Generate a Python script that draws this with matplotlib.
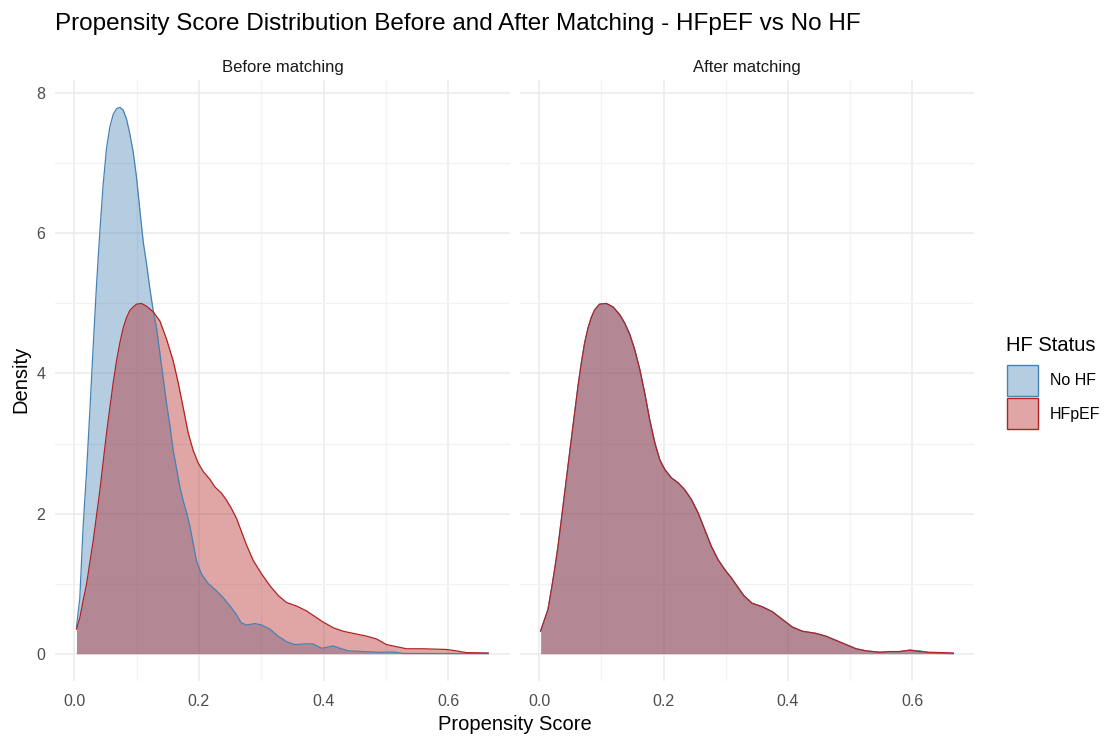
import numpy as np
import matplotlib.pyplot as plt
from matplotlib.patches import Patch

plt.rcParams['font.family'] = ['Liberation Sans', 'DejaVu Sans']

# density curves (x = propensity score, y = density)
before_nohf_x = [0.0037, 0.009, 0.0144, 0.0198, 0.0251, 0.0305, 0.0358, 0.0412, 0.0465, 0.0519,
                 0.0572, 0.0626, 0.0679, 0.0733, 0.0786, 0.084, 0.0893, 0.0947, 0.100, 0.1053,
                 0.1107, 0.116, 0.1214, 0.1267, 0.1321, 0.1374, 0.1428, 0.1481, 0.1535, 0.1588,
                 0.1642, 0.1695, 0.1749, 0.1802, 0.1856, 0.191, 0.196, 0.204, 0.215, 0.228,
                 0.239, 0.250, 0.260, 0.268, 0.2765, 0.290, 0.3005, 0.314, 0.327, 0.341,
                 0.354, 0.370, 0.383, 0.397, 0.4155, 0.426, 0.440, 0.464, 0.490, 0.512,
                 0.528, 0.603, 0.664]
before_nohf_y = [0.38, 0.79, 1.82, 2.59, 3.46, 4.39, 5.26, 6.03, 6.70, 7.22,
                 7.52, 7.70, 7.78, 7.80, 7.76, 7.63, 7.42, 7.16, 6.80, 6.34,
                 5.88, 5.57, 5.21, 4.90, 4.65, 4.29, 3.93, 3.57, 3.26, 2.90,
                 2.64, 2.38, 2.18, 2.02, 1.82, 1.57, 1.33, 1.14, 1.0, 0.90,
                 0.80, 0.68, 0.56, 0.44, 0.41, 0.43, 0.41, 0.35, 0.25, 0.17,
                 0.13, 0.14, 0.14, 0.077, 0.11, 0.077, 0.04, 0.03, 0.02, 0.024,
                 0.003, 0.002, 0.002]

before_hfpef_x = [0.0037, 0.009, 0.0144, 0.0198, 0.0251, 0.0305, 0.0358, 0.0412, 0.0465, 0.0519,
                  0.0572, 0.0626, 0.0679, 0.0733, 0.0786, 0.084, 0.0893, 0.0947, 0.100, 0.108,
                  0.116, 0.1267, 0.1374, 0.1481, 0.1588, 0.1668, 0.1749, 0.1829, 0.1909, 0.199,
                  0.207, 0.2176, 0.2257, 0.2364, 0.2444, 0.2524, 0.2604, 0.2684, 0.2765, 0.2872,
                  0.3005, 0.3139, 0.3273, 0.3406, 0.3567, 0.3727, 0.3861, 0.3995, 0.4155, 0.4316,
                  0.4529, 0.469, 0.485, 0.501, 0.517, 0.533, 0.560, 0.597, 0.613, 0.629,
                  0.664]
before_hfpef_y = [0.35, 0.51, 0.76, 0.99, 1.30, 1.61, 1.97, 2.33, 2.74, 3.15,
                  3.51, 3.87, 4.18, 4.44, 4.65, 4.80, 4.90, 4.95, 4.99, 5.0,
                  4.96, 4.88, 4.75, 4.49, 4.18, 3.87, 3.51, 3.15, 2.90, 2.72,
                  2.60, 2.49, 2.38, 2.29, 2.19, 2.07, 1.93, 1.74, 1.55, 1.33,
                  1.14, 0.97, 0.83, 0.73, 0.68, 0.61, 0.53, 0.45, 0.37, 0.32,
                  0.28, 0.25, 0.21, 0.13, 0.10, 0.07, 0.07, 0.06, 0.04, 0.015,
                  0.01]

after_x = [0.0024, 0.0088, 0.0142, 0.0196, 0.0249, 0.0303, 0.0357, 0.041, 0.0464, 0.0517,
           0.0571, 0.0625, 0.0678, 0.0732, 0.0786, 0.0839, 0.0893, 0.0973, 0.108, 0.1188,
           0.1295, 0.1375, 0.1456, 0.1536, 0.1617, 0.1697, 0.1777, 0.1858, 0.1938, 0.2019,
           0.2126, 0.2233, 0.234, 0.2448, 0.2555, 0.2662, 0.2769, 0.2877, 0.2984, 0.3091,
           0.3154, 0.3288, 0.3423, 0.3585, 0.3747, 0.3908, 0.407, 0.4232, 0.4447, 0.4609,
           0.4771, 0.4933, 0.5094, 0.5256, 0.5472, 0.5633, 0.5795, 0.5957, 0.6119, 0.628,
           0.6658]
after_hfpef_y = [0.32, 0.49, 0.63, 0.91, 1.20, 1.53, 1.91, 2.29, 2.68, 3.06,
                 3.44, 3.82, 4.15, 4.44, 4.65, 4.80, 4.91, 4.99, 5.0, 4.95,
                 4.84, 4.72, 4.56, 4.34, 4.06, 3.72, 3.34, 3.01, 2.77, 2.63,
                 2.51, 2.44, 2.34, 2.20, 2.01, 1.77, 1.53, 1.34, 1.20, 1.08,
                 1.0, 0.83, 0.72, 0.67, 0.60, 0.49, 0.38, 0.32, 0.29, 0.25,
                 0.19, 0.13, 0.07, 0.04, 0.02, 0.03, 0.03, 0.05, 0.03, 0.02,
                 0.01]
after_nohf_y = [0.33, 0.49, 0.63, 0.91, 1.20, 1.53, 1.91, 2.29, 2.68, 3.06,
                3.44, 3.82, 4.15, 4.44, 4.65, 4.80, 4.91, 4.99, 5.0, 4.95,
                4.84, 4.72, 4.56, 4.34, 4.06, 3.72, 3.34, 3.02, 2.77, 2.63,
                2.51, 2.44, 2.34, 2.20, 2.01, 1.77, 1.53, 1.34, 1.20, 1.08,
                1.0, 0.83, 0.72, 0.67, 0.60, 0.49, 0.38, 0.32, 0.29, 0.25,
                0.19, 0.13, 0.07, 0.04, 0.02, 0.03, 0.03, 0.05, 0.04, 0.01,
                0.0]

groups = ['No HF', 'HFpEF']
panel_titles = ['Before matching', 'After matching']
line_cols = {'No HF': '#4682B4', 'HFpEF': '#B22222'}
fill_cols = {'No HF': (0.2745, 0.5098, 0.7059, 0.4), 'HFpEF': (0.698, 0.1333, 0.1333, 0.4)}

panels = [
    {'No HF': (before_nohf_x, before_nohf_y), 'HFpEF': (before_hfpef_x, before_hfpef_y)},
    {'No HF': (after_x, after_nohf_y), 'HFpEF': (after_x, after_hfpef_y)},
]

fig = plt.figure(figsize=(11.04, 7.38), dpi=100)
ax1 = fig.add_axes([55 / 1104, 1 - 681 / 738, 455 / 1104, 601 / 738])
ax2 = fig.add_axes([520 / 1104, 1 - 681 / 738, 454 / 1104, 601 / 738])
axs = [ax1, ax2]

all_x = before_nohf_x + before_hfpef_x + after_x
xmin, xmax = min(all_x), max(all_x)
xr = xmax - xmin
ymax = max(before_nohf_y)

for i, ax in enumerate(axs):
    for g in groups:
        x, y = panels[i][g]
        ax.fill_between(x, 0, y, color=fill_cols[g], linewidth=0)
        ax.plot(x, y, color=line_cols[g], linewidth=0.9)
    ax.set_xlim(xmin - 0.05 * xr, xmax + 0.05 * xr)
    ax.set_ylim(-0.05 * ymax, ymax * 1.05)
    ax.set_xticks([0, 0.2, 0.4, 0.6])
    ax.set_xticks([0.1, 0.3, 0.5], minor=True)
    ax.set_yticks([0, 2, 4, 6, 8])
    ax.set_yticks([1, 3, 5, 7], minor=True)
    ax.set_xticklabels(['0.0', '0.2', '0.4', '0.6'])
    ax.grid(which='major', color='#EBEBEB', linewidth=1.1)
    ax.grid(which='minor', color='#F2F2F2', linewidth=0.9)
    ax.set_axisbelow(True)
    for s in ax.spines.values():
        s.set_visible(False)
    ax.tick_params(which='both', length=0, labelsize=11.5, labelcolor='#4D4D4D')
    ax.tick_params(axis='x', pad=9)
    ax.tick_params(axis='y', pad=7)
    ax.set_title(panel_titles[i], fontsize=12, color='#1A1A1A', pad=6)

ax2.tick_params(axis='y', labelleft=False)

fig.text(55 / 1104, 1 - 24 / 738, 'Propensity Score Distribution Before and After Matching - HFpEF vs No HF',
         fontsize=17.5, ha='left', va='center')
fig.text(515 / 1104, 1 - 724 / 738, 'Propensity Score', fontsize=14.5, ha='center', va='center')
fig.text(21 / 1104, 1 - 379 / 738, 'Density', fontsize=14.5, rotation=90, ha='center', va='center')

# legend
fig.text(1006 / 1104, 1 - 345 / 738, 'HF Status', fontsize=14.5, ha='left', va='center')
handles = [Patch(facecolor=fill_cols[g], edgecolor=line_cols[g], linewidth=1.0) for g in groups]
fig.legend(handles, groups, loc='upper left',
           bbox_to_anchor=(1007 / 1104, 1 - 365 / 738), frameon=False,
           fontsize=11.5, handlelength=1.94, handleheight=2.6,
           labelspacing=0.15, handletextpad=0.75, borderaxespad=0, borderpad=0)

fig.savefig('out.png', dpi=100)
